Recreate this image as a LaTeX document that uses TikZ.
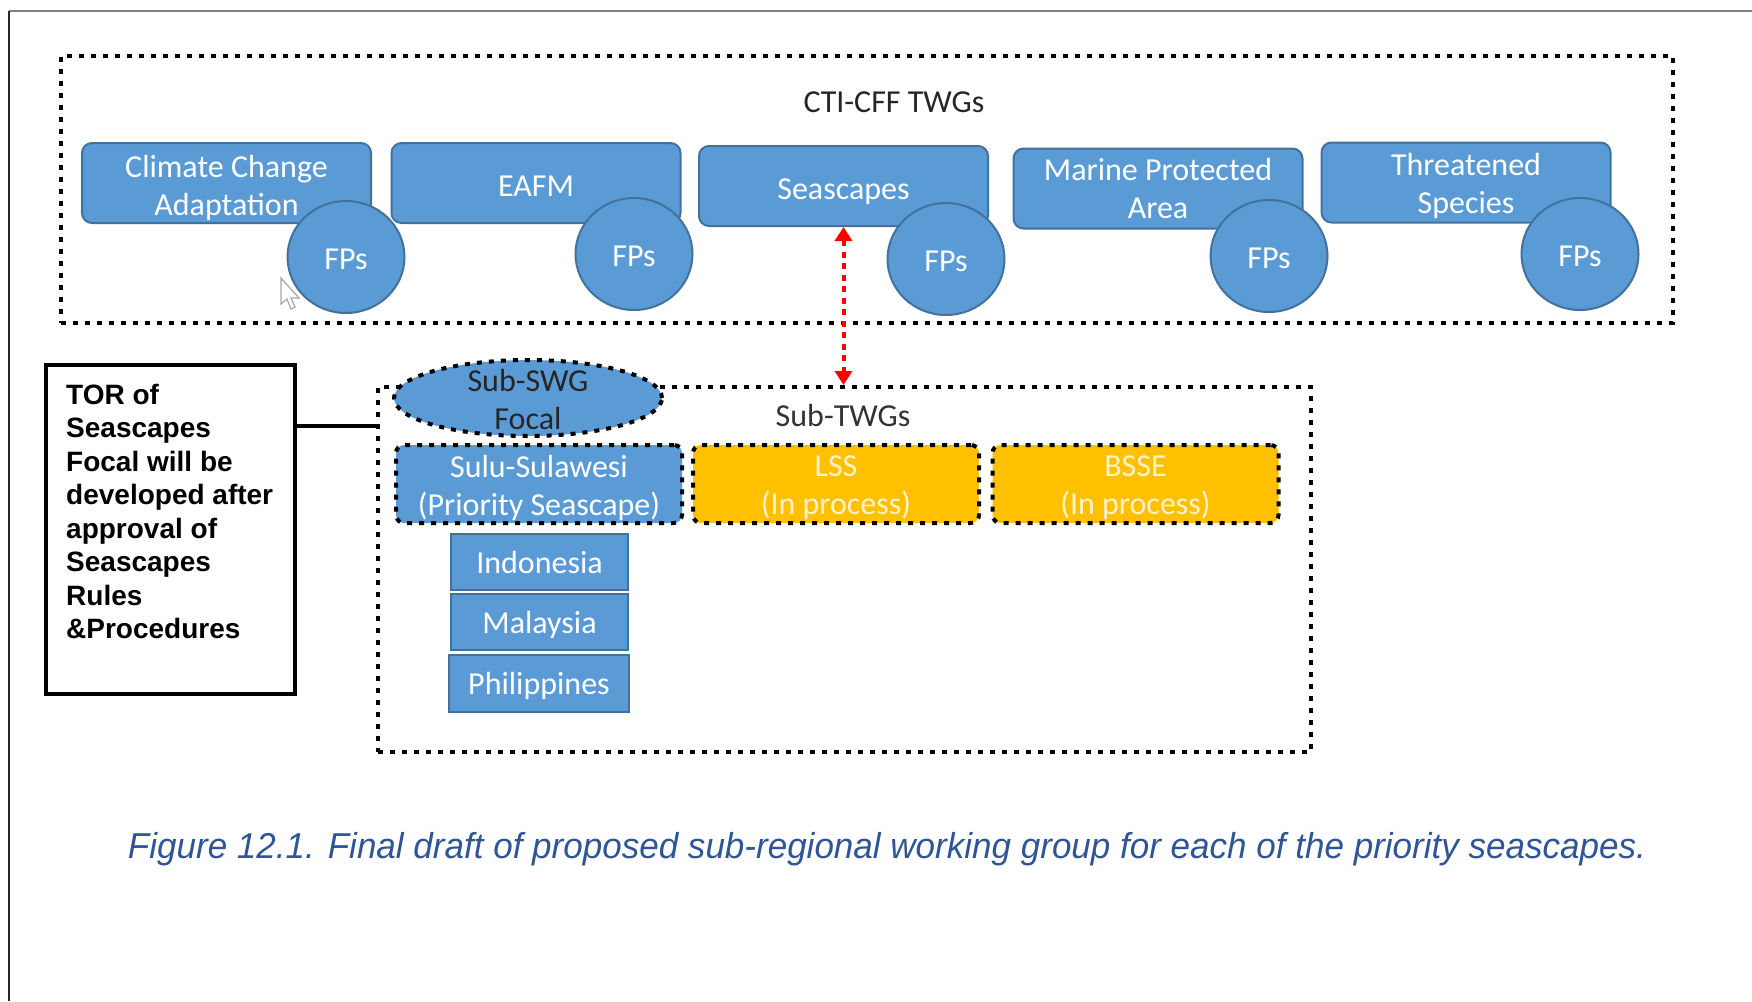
\documentclass[tikz,border=0pt]{standalone}
\usepackage{fontspec}
\setmainfont{Carlito}
\newfontfamily\arialf{Liberation Sans}
\usetikzlibrary{shapes.geometric,arrows.meta}
\definecolor{bfill}{HTML}{5B9BD5}
\definecolor{bdraw}{HTML}{41719C}
\definecolor{ofill}{HTML}{FFC000}
\definecolor{capc}{HTML}{2F5597}
\definecolor{otext}{HTML}{FFF2CC}
\begin{document}
\begin{tikzpicture}[x=1pt,y=-1pt,
  cal/.style={font=\fontsize{32}{38}\selectfont},
  wtxt/.style={cal, text=white, align=center, inner sep=0pt},
  otxt/.style={cal, text=otext, align=center, inner sep=0pt},
  dtxt/.style={cal, text=black!85, align=center, inner sep=0pt},
  twg/.style={draw=bdraw, line width=2pt, fill=bfill, rounded corners=10pt,
    minimum width=289pt, minimum height=80pt, inner sep=0pt},
  fp/.style={ellipse, draw=bdraw, line width=2pt, fill=bfill,
    minimum width=117pt, minimum height=112pt, inner sep=0pt,
    label={[wtxt,yshift=-2pt]center:FPs}},
  dotline/.style={draw=black, line width=4pt, dash pattern=on 5pt off 7pt},
  subbox/.style={dotline, rounded corners=8pt, minimum width=286pt,
    minimum height=78pt, inner sep=0pt},
  country/.style={draw=bdraw, line width=2pt, fill=bfill, minimum width=177pt,
    minimum height=56pt, inner sep=0pt},
  redarrow/.style={draw=red, line width=4pt, dash pattern=on 6pt off 5.5pt,
    {Triangle[width=17pt,length=14pt]}-{Triangle[width=17pt,length=14pt]}}
]
\useasboundingbox (0,0) rectangle (1752,1001);
% page frame
\coordinate (fTL) at (9,11);
\coordinate (fTR) at (1752,11);
\coordinate (fBL) at (9,1001);
\draw[line width=2.5pt, draw=gray] (fTL) -- (fTR);
\draw[line width=2.5pt, draw=black!85] (fTL) -- (fBL);

% outer dotted box
\node[dotline, minimum width=1612pt, minimum height=267pt, inner sep=0pt] (outer) at (867,189.5) {};
\node[cal, text=black!85] (ctitxt) at (894,102) {CTI-CFF TWGs};

% TWG boxes
\node[twg, label={[wtxt,yshift=-4.5pt]center:Climate Change\\Adaptation}] (cca) at (226.5,183) {};
\node[twg, label={[wtxt,yshift=-3.5pt]center:EAFM}] (eafm) at (536,183) {};
\node[twg, label={[wtxt,yshift=-5.5pt]center:Seascapes}] (sea) at (843.5,186) {};
\node[twg, label={[wtxt]center:Marine Protected\\Area}] (mpa) at (1158,188.5) {};
\node[twg, label={[wtxt,yshift=-3.5pt]center:Threatened\\Species}] (ts) at (1466,182.5) {};

% cursor artifact
\draw[gray!70, line width=1.2pt, fill=white]
  (281,278) -- (281,304) -- (287,299) -- (291,309) -- (295,307) -- (291,298) -- (299,298) -- cycle;

% FPs circles
\node[fp] (fp1) at (346,257) {};
\node[fp] (fp2) at (634,254) {};
\node[fp] (fp3) at (946,259) {};
\node[fp] (fp4) at (1269,256) {};
\node[fp] (fp5) at (1580,254) {};

% Sub-TWGs box
\node[dotline, minimum width=933pt, minimum height=365pt, inner sep=0pt] (subtwg) at (844.5,569.5) {};
\node[cal, text=black!80] (subtxt) at (843,416) {Sub-TWGs};

% red double arrow
\draw[redarrow] (sea.south) -- (sea.south |- subtwg.north);

% sub boxes
\node[subbox, fill=bfill, label={[wtxt,yshift=-3.5pt]center:Sulu-Sulawesi\\(Priority Seascape)}] (sulu) at (539,484) {};
\node[subbox, fill=ofill, label={[otxt,yshift=-3.5pt]center:LSS\\(In process)}] (lss) at (836,484) {};
\node[subbox, fill=ofill, label={[otxt,yshift=-3.5pt]center:BSSE\\(In process)}] (bsse) at (1135.5,484) {};

% Sub-SWG Focal ellipse
\node[ellipse, dotline, fill=bfill, minimum width=268pt, minimum height=76pt,
  inner sep=0pt, label={[dtxt,yshift=-2pt]center:Sub-SWG\\Focal}] (focal) at (528,398) {};

% countries
\node[country, label={[wtxt]center:Indonesia}] (ind) at (539.5,562) {};
\node[country, label={[wtxt,yshift=-3pt]center:Malaysia}] (mal) at (539.5,622) {};
\node[country, minimum width=180pt, minimum height=57pt,
  label={[wtxt,yshift=-2pt]center:Philippines}] (phi) at (539,683.5) {};

% TOR box
\node[draw=black, line width=3.5pt, minimum width=249pt, minimum height=329pt,
  inner sep=0pt] (tor) at (170.5,529.5) {};
\node[anchor=north west, align=left, inner sep=0pt,
  font=\arialf\bfseries\fontsize{28}{33.5}\selectfont] (tortxt) at (66,384)
  {TOR of\\Seascapes\\Focal will be\\developed after\\approval of\\Seascapes\\Rules\\\&Procedures};
\draw[line width=3.5pt] (tor.east |- 0,426) -- (subtwg.west |- 0,426);

% caption
\node[text=capc, inner sep=0pt] (cap) at (887,849.5)
  {\resizebox{1518pt}{\height}{\arialf\itshape\fontsize{36}{40}\selectfont Figure 12.1. Final draft of proposed sub-regional working group for each of the priority seascapes.}};
\end{tikzpicture}
\end{document}
